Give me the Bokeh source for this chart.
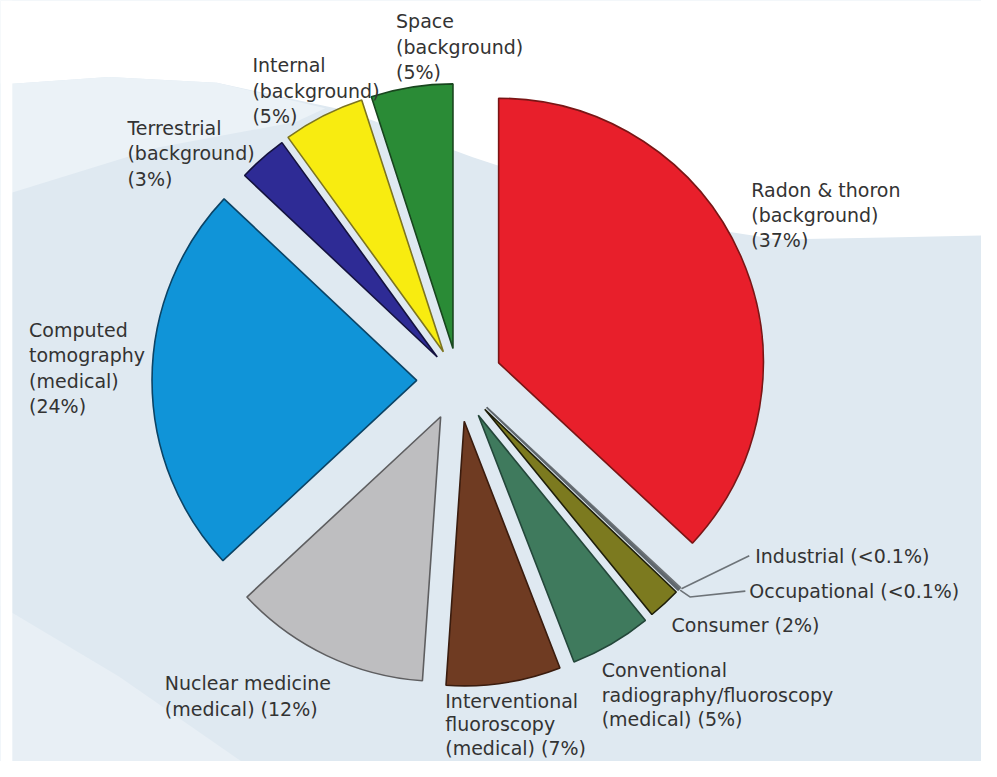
import numpy as np
from bokeh.plotting import figure
from bokeh.models import Range1d, ColumnDataSource
from bokeh.embed import file_html
from bokeh.resources import INLINE
from bokeh.core.properties import value

# ---------------- data ----------------
categories = ["Radon & thoron", "Industrial", "Occupational", "Consumer",
              "Conventional radiography/fluoroscopy", "Interventional fluoroscopy",
              "Nuclear medicine", "Computed tomography", "Terrestrial", "Internal", "Space"]
shares = [37, 0.1, 0.1, 2, 5, 7, 12, 24, 3, 5, 5]
label_lines = [
    ["Radon & thoron", "(background)", "(37%)"],
    ["Industrial (<0.1%)"],
    ["Occupational (<0.1%)"],
    ["Consumer (2%)"],
    ["Conventional", "radiography/fluoroscopy", "(medical) (5%)"],
    ["Interventional", "fluoroscopy", "(medical) (7%)"],
    ["Nuclear medicine", "(medical) (12%)"],
    ["Computed", "tomography", "(medical)", "(24%)"],
    ["Terrestrial", "(background)", "(3%)"],
    ["Internal", "(background)", "(5%)"],
    ["Space", "(background)", "(5%)"],
]

# ---------------- styles / layout ----------------
fill_colors = ["#e81f2b", "#cfd3d6", "#dfe7ee", "#7c7a1f", "#3f7a5d", "#6f3b22",
               "#bebec0", "#1094d8", "#2e2b95", "#f8ec10", "#2a8b36"]
line_colors = ["#7a1515", "#6e7478", "#5f676d", "#1e1e0a", "#24473a", "#3a1c0e",
               "#5e5e60", "#0b4466", "#14123f", "#7d7520", "#18461e"]
explode = [45, 40, 40, 40, 41, 42, 41, 42, 32, 33, 33]   # pull-out distance per slice
# label anchor (left x, centre y of first line), reference-image pixels
label_pos = [(763, 193), (767, 567), (761, 603), (682, 638), (611, 684), (452, 715),
             (167, 697), (29, 336), (129, 130), (256, 66), (402, 21)]
label_step = [26, 26, 26, 26, 25, 24, 26, 26, 26, 26, 26]

W, H = 981, 761          # canvas size
RW, RH = 997, 777        # reference picture size (data units)
def sy(y):               # picture y (down) -> data y (up)
    return RH - y

center = (465.0, sy(388.0))
radius = 269.0

p = figure(width=W, height=H, x_range=Range1d(0, RW), y_range=Range1d(0, RH),
           x_axis_type=None, y_axis_type=None, toolbar_location=None, output_backend="svg",
           min_border=0, outline_line_color=None, background_fill_color="#dfe9f1",
           border_fill_color="white")
p.grid.visible = False

# ---------------- background swooshes ----------------
white_x = [0, 997, 997, 900, 790, 700, 600, 480, 350, 220, 110, 12, 0]
white_y = [0, 0, 240, 242, 244, 230, 200, 160, 112, 84, 78, 85, 85]
p.patch(white_x, [sy(v) for v in white_y], fill_color="white", line_color=None)
band_x = [0, 12, 110, 220, 330, 300, 160, 12, 0]
band_y = [85, 85, 78, 84, 110, 124, 150, 196, 198]
p.patch(band_x, [sy(v) for v in band_y], fill_color="#ebf2f7", line_color=None)
low_x = [0, 0, 245, 120]
low_y = [618, 777, 777, 690]
p.patch(low_x, [sy(v) for v in low_y], fill_color="#e8eff5", line_color=None)
p.patch([0, 12, 12, 0], [sy(0), sy(0), sy(777), sy(777)], fill_color="white", line_color=None)

# ---------------- pie ----------------
vals = np.array(shares, dtype=float)
total = vals.sum()
cum = np.concatenate([[0.0], np.cumsum(vals)])
th_s = cum[:-1] / total * 2 * np.pi       # clockwise from 12 o'clock
th_e = cum[1:] / total * 2 * np.pi
bis = (th_s + th_e) / 2
ex = np.array(explode, dtype=float)
ax = center[0] + ex * np.sin(bis)
ay = center[1] + ex * np.cos(bis)

src = ColumnDataSource(dict(x=ax, y=ay, start=np.pi / 2 - th_s, end=np.pi / 2 - th_e,
                            fill=fill_colors, line=line_colors, name=categories))
p.wedge(x="x", y="y", radius=radius, start_angle="start", end_angle="end", direction="clock",
        fill_color="fill", line_color="line", line_width=1.6, source=src)

# leader lines for the two slivers
for i, bend in ((1, False), (2, True)):
    tipx = ax[i] + (radius + 2) * np.sin(bis[i])
    tipy = ay[i] + (radius + 2) * np.cos(bis[i])
    lx, ly = label_pos[i]
    if bend:
        xs = [tipx, tipx + 10, lx - 4]
        ys = [tipy, tipy - 7, sy(ly)]
    else:
        xs = [tipx, lx - 6]
        ys = [tipy, sy(ly)]
    p.line(xs, ys, line_color="#6d7378", line_width=1.6)

# ---------------- labels ----------------
tx, ty, tt = [], [], []
for lines, (lx, ly), st in zip(label_lines, label_pos, label_step):
    for k, s in enumerate(lines):
        tx.append(lx)
        ty.append(sy(ly + k * st))
        tt.append(s)
p.text(x=tx, y=ty, text=tt, text_font=value("DejaVu Sans"), text_font_size="19px",
       text_color="#333333", text_baseline="middle", text_align="left")

open("out.html", "w").write(file_html(p, INLINE))
